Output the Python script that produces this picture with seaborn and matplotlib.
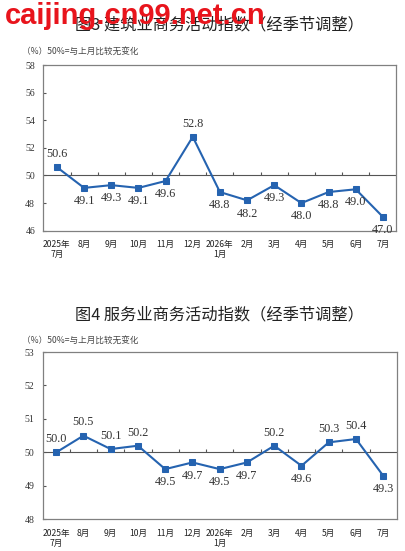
import matplotlib.pyplot as plt
import seaborn as sns

sns.set_style("white")
plt.rcParams['font.family'] = ['Noto Sans CJK SC', 'DejaVu Sans']

# Data
months = ['2025年\n7月', '8月', '9月', '10月', '11月', '12月', '2026年\n1月',
          '2月', '3月', '4月', '5月', '6月', '7月']
construction = [50.6, 49.1, 49.3, 49.1, 49.6, 52.8, 48.8, 48.2, 49.3, 48.0, 48.8, 49.0, 47.0]
construction_above = [True, False, False, False, False, True, False, False, False, False, False, False, False]
services = [50.0, 50.5, 50.1, 50.2, 49.5, 49.7, 49.5, 49.7, 50.2, 49.6, 50.3, 50.4, 49.3]
services_above = [True, True, True, True, False, False, False, False, True, False, True, True, False]

title_top = '图3 建筑业商务活动指数（经季节调整）'
title_bottom = '图4 服务业商务活动指数（经季节调整）'
note = '（%）50%=与上月比较无变化'

LINE = '#2563b0'
SERIF = 'Liberation Serif'


def draw_panel(ax, values, above, ylim, yticks):
    x = list(range(len(values)))
    sns.lineplot(x=x, y=values, ax=ax, color=LINE, linewidth=1.5,
                 marker='s', markersize=4, markeredgecolor=LINE)
    ax.set_xlim(-0.5, len(values) - 0.5)
    ax.set_ylim(*ylim)
    ax.axhline(50, color='#555555', linewidth=0.8, zorder=1)

    # small ticks between categories sitting on the 50 line
    h = (ylim[1] - ylim[0]) * 0.02
    ax.vlines([i + 0.5 for i in x[:-1]], 50, 50 + h, color='#555555', linewidth=0.8)

    for xi, v, up in zip(x, values, above):
        ax.annotate(f'{v:.1f}', (xi, v), xytext=(0, 9.5 if up else -9.5),
                    textcoords='offset points', ha='center', va='center',
                    fontsize=8.8, family=SERIF, color='#333333')

    ax.set_xticks(x)
    ax.set_xticklabels(months, fontsize=6.2, color='#222222', linespacing=1.1)
    ax.tick_params(axis='x', length=0, pad=7)
    ax.set_yticks(yticks)
    ax.set_yticklabels([str(t) for t in yticks], fontsize=7, family=SERIF, color='#333333')
    ax.tick_params(axis='y', direction='in', length=2.5, width=0.8, color='#555555', pad=6, left=True)
    for s in ax.spines.values():
        s.set_color('#808080')
        s.set_linewidth(0.9)
    ax.set_xlabel('')
    ax.set_ylabel('')


fig = plt.figure(figsize=(4.05, 5.51), dpi=100)

ax1 = fig.add_axes([0.107, 0.5813, 0.872, 0.3007])
draw_panel(ax1, construction, construction_above, (46, 58), [46, 48, 50, 52, 54, 56, 58])

ax2 = fig.add_axes([0.105, 0.0575, 0.875, 0.3036])
draw_panel(ax2, services, services_above, (48, 53), [48, 49, 50, 51, 52, 53])

fig.text(0.541, 1 - 25 / 551, title_top, ha='center', va='center', fontsize=11.7, color='#222222')
fig.text(0.543, 1 - 315 / 551, title_bottom, ha='center', va='center', fontsize=11.7, color='#222222')
fig.text(22 / 405, 1 - 51 / 551, note, ha='left', va='center', fontsize=6.2, color='#444444')
fig.text(22 / 405, 1 - 340 / 551, note, ha='left', va='center', fontsize=6.2, color='#444444')

# watermark over the first title
fig.text(5 / 405, 1 - 24 / 551, 'caijing.cn99.net.cn', ha='left', va='baseline',
         fontsize=21, fontweight='bold', family='Liberation Sans', color='#e8141c')

fig.savefig('out.png', dpi=100)
